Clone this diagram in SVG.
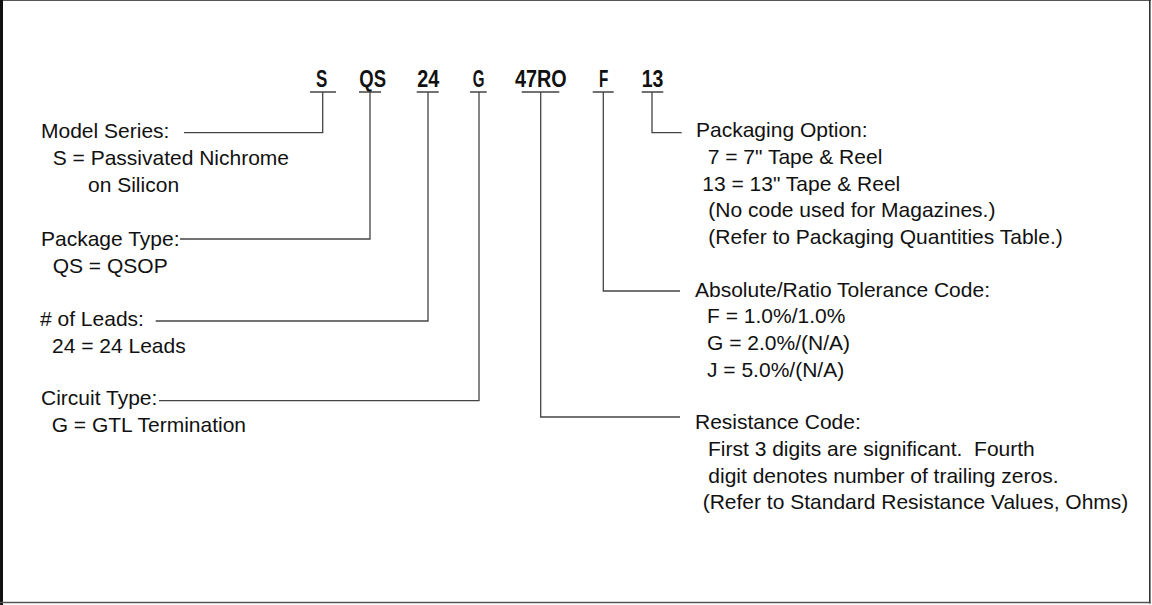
<svg xmlns="http://www.w3.org/2000/svg" width="1152" height="605" viewBox="0 0 1152 605">
<style>
.t{font-family:"Liberation Sans",Arial,sans-serif;font-size:21px;fill:#111;white-space:pre}
.c{font-family:"Liberation Sans",Arial,sans-serif;font-size:23px;font-weight:bold;fill:#111}
.ln{stroke:#444;stroke-width:1.3;fill:none}
</style>
<rect width="1152" height="605" fill="#fff"/>
<g id="frame">
<line x1="0" y1="0.5" x2="1151" y2="0.5" stroke="#555" stroke-width="1.2"/>
<line x1="1.5" y1="0" x2="1.5" y2="605" stroke="#111" stroke-width="3"/>
<line x1="1149.8" y1="0" x2="1149.8" y2="603.5" stroke="#333" stroke-width="1.6"/>
<line x1="0" y1="602.5" x2="1151" y2="602.5" stroke="#555" stroke-width="1.6"/>
</g>
<g id="code">
<text class="c" x="321.7" y="86.7" text-anchor="middle" textLength="11.3" lengthAdjust="spacingAndGlyphs">S</text>
<text class="c" x="372.7" y="86.7" text-anchor="middle" textLength="26.7" lengthAdjust="spacingAndGlyphs">QS</text>
<text class="c" x="428.3" y="86.7" text-anchor="middle" textLength="22" lengthAdjust="spacingAndGlyphs">24</text>
<text class="c" x="478.5" y="86.7" text-anchor="middle" textLength="11.7" lengthAdjust="spacingAndGlyphs">G</text>
<text class="c" x="540.8" y="86.7" text-anchor="middle" textLength="51.7" lengthAdjust="spacingAndGlyphs">47RO</text>
<text class="c" x="603.7" y="86.7" text-anchor="middle" textLength="9.3" lengthAdjust="spacingAndGlyphs">F</text>
<text class="c" x="652.5" y="86.7" text-anchor="middle" textLength="21.7" lengthAdjust="spacingAndGlyphs">13</text>
</g>
<g id="connectors">
<path class="ln" d="M310 92H336M359 92H381M416.7 92H438.7M470 92H486.7M521.7 92H559.3M592.7 92H613.7M641.7 92H663.3"/>
<path class="ln" d="M322.7 92V132.7H184"/>
<path class="ln" d="M370 92V239H180"/>
<path class="ln" d="M428 92V321H155.7"/>
<path class="ln" d="M479 92V400.7H159"/>
<path class="ln" d="M540.7 92V417H680"/>
<path class="ln" d="M603.3 92V291H680"/>
<path class="ln" d="M652 92V132.7H681.7"/>
</g>
<g id="model-series">
<text class="t" x="41" y="138">Model Series:</text>
<text class="t" x="52.7" y="165">S = Passivated Nichrome</text>
<text class="t" x="88" y="192">on Silicon</text>
</g>
<g id="package-type">
<text class="t" x="41" y="246">Package Type:</text>
<text class="t" x="52.7" y="272.7">QS = QSOP</text>
</g>
<g id="leads">
<text class="t" x="40" y="326"># of Leads:</text>
<text class="t" x="52" y="352.7">24 = 24 Leads</text>
</g>
<g id="circuit-type">
<text class="t" x="41" y="405">Circuit Type:</text>
<text class="t" x="51.7" y="431.7">G = GTL Termination</text>
</g>
<g id="packaging-option">
<text class="t" x="696" y="137.3">Packaging Option:</text>
<text class="t" x="707.7" y="164">7 = 7" Tape &amp; Reel</text>
<text class="t" x="702.3" y="190.7">13 = 13" Tape &amp; Reel</text>
<text class="t" x="708.3" y="217">(No code used for Magazines.)</text>
<text class="t" x="708.3" y="243.7">(Refer to Packaging Quantities Table.)</text>
</g>
<g id="tolerance">
<text class="t" x="695" y="296.7">Absolute/Ratio Tolerance Code:</text>
<text class="t" x="707" y="323">F = 1.0%/1.0%</text>
<text class="t" x="707" y="350">G = 2.0%/(N/A)</text>
<text class="t" x="707" y="376.7">J = 5.0%/(N/A)</text>
</g>
<g id="resistance">
<text class="t" x="695" y="429">Resistance Code:</text>
<text class="t" x="708" y="456">First 3 digits are significant.  Fourth</text>
<text class="t" x="708.3" y="482.7">digit denotes number of trailing zeros.</text>
<text class="t" x="702.7" y="509">(Refer to Standard Resistance Values, Ohms)</text>
</g>
</svg>
